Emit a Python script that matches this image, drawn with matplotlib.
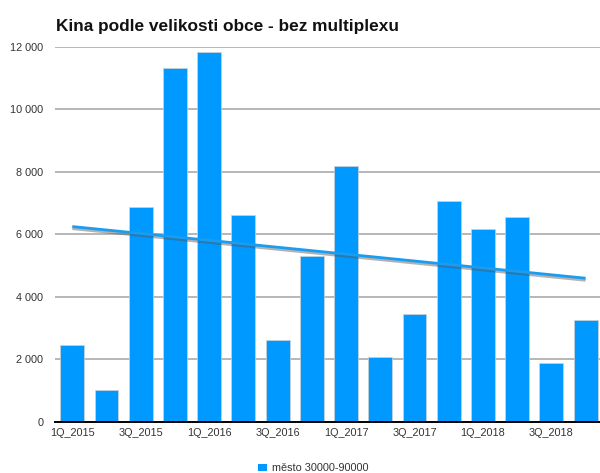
import numpy as np
import matplotlib
matplotlib.use("Agg")
import matplotlib.pyplot as plt
from matplotlib.patches import Patch
import matplotlib.patheffects as pe

plt.rcParams['font.family'] = ['Liberation Sans', 'DejaVu Sans']

quarters = ["1Q_2015", "2Q_2015", "3Q_2015", "4Q_2015",
            "1Q_2016", "2Q_2016", "3Q_2016", "4Q_2016",
            "1Q_2017", "2Q_2017", "3Q_2017", "4Q_2017",
            "1Q_2018", "2Q_2018", "3Q_2018", "4Q_2018"]
values = [2450, 1030, 6880, 11310, 11830, 6630, 2630, 5300,
          8190, 2070, 3460, 7050, 6170, 6560, 1870, 3250]
yticks = [0, 2000, 4000, 6000, 8000, 10000, 12000]
ytick_labels = ["0", "2 000", "4 000", "6 000", "8 000", "10 000", "12 000"]
series_name = "město 30000-90000"
title = "Kina podle velikosti obce - bez multiplexu"

W, H = 600, 473
fig = plt.figure(figsize=(W / 100, H / 100), dpi=100)
ax = fig.add_axes([55 / W, 1 - 421.7 / H, 545 / W, (421.7 - 46.7) / H])

x = np.arange(len(values))
bar_color = "#0099ff"
ax.bar(x, values, width=0.7, color=bar_color, edgecolor="#d2d2d2",
       linewidth=0.5, zorder=3)

# linear trend line
coef = np.polyfit(x, values, 1)
trend = np.polyval(coef, x)
ax.plot([x[0], x[-1]], [trend[0], trend[-1]], color="#1a9cf0", lw=2.0,
        zorder=5, solid_capstyle="butt",
        path_effects=[pe.SimpleLineShadow(offset=(0, -1.5), shadow_color="#555555", alpha=0.45),
                      pe.Normal()])

ax.set_xlim(-0.505, 15.42)
ax.set_ylim(0, 12000)
ax.set_yticks(yticks)
ax.set_yticklabels(ytick_labels)
ax.set_xticks(x[::2])
ax.set_xticklabels(quarters[::2])
ax.tick_params(axis="both", length=0, labelsize=7.8, labelcolor="#333333")
ax.tick_params(axis="y", pad=8.5)
ax.tick_params(axis="x", pad=4.5)

for s in ["top", "right", "left"]:
    ax.spines[s].set_visible(False)
ax.spines["bottom"].set_color("black")
ax.spines["bottom"].set_linewidth(1.4)
ax.spines["bottom"].set_zorder(6)

ax.yaxis.grid(True, color="#aaaaaa", linewidth=1.2, zorder=0)
ax.set_axisbelow(True)

fig.text(56 / W, 1 - 31 / H, title, fontsize=12.4, fontweight="bold",
         ha="left", va="baseline", color="#111111")

handles = [Patch(facecolor=bar_color, edgecolor="none", label=series_name)]
fig.legend(handles=handles, loc="center", bbox_to_anchor=(313.5 / W, 1 - 468.3 / H),
           frameon=False, fontsize=7.8, handlelength=0.75, handleheight=0.75,
           handletextpad=0.5, labelcolor="#333333", borderaxespad=0, borderpad=0)

fig.savefig("out.png", dpi=100, facecolor="white")
